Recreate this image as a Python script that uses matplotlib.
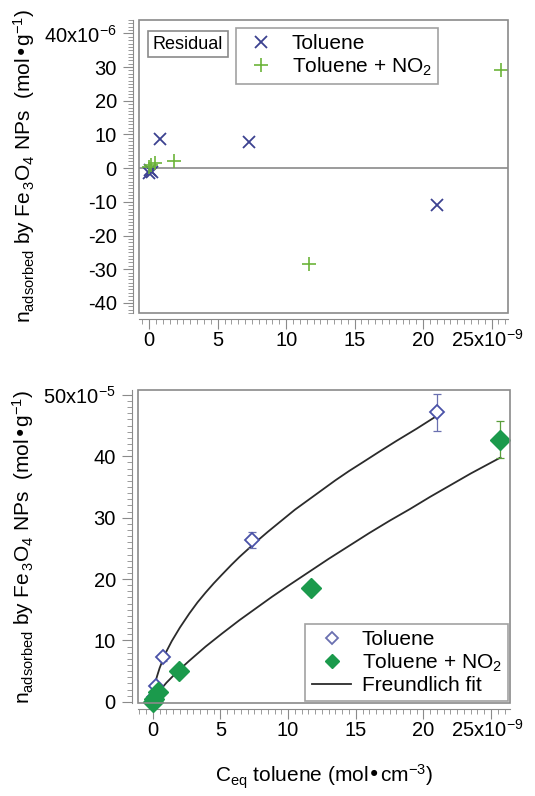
import numpy as np
import matplotlib
matplotlib.use("Agg")
import matplotlib.pyplot as plt
from matplotlib.ticker import FixedLocator, MultipleLocator, FixedFormatter
from matplotlib.patches import Rectangle
from matplotlib.lines import Line2D
from matplotlib.transforms import ScaledTranslation

plt.rcParams['font.family'] = ['Liberation Sans', 'DejaVu Sans']
plt.rcParams['mathtext.default'] = 'regular'

# Data (values as shown on the axes)
# top panel: residuals, x in 1e-9 mol/cm3, y in 1e-6 mol/g
res_tol_x = [0.0, 0.05, 0.2, 0.75, 7.3, 21.0]
res_tol_y = [-1.5, -0.5, -1.0, 8.6, 7.8, -10.8]
res_no2_x = [0.0, 0.1, 0.4, 1.8, 11.7, 25.7]
res_no2_y = [0.3, 0.8, 1.5, 2.0, -28.5, 29.0]

# bottom panel: isotherms, y in 1e-5 mol/g
tol_x = [0.0, 0.05, 0.25, 0.75, 7.3, 21.0]
tol_y = [0.0, 0.8, 2.6, 7.3, 26.3, 47.2]
tol_err = [0.3, 0.3, 0.4, 0.6, 1.3, 3.0]
no2_x = [0.0, 0.1, 0.4, 1.9, 11.7, 25.7]
no2_y = [0.0, 0.5, 1.6, 5.0, 18.5, 42.7]
no2_err = [0.2, 0.2, 0.3, 0.5, 1.0, 3.0]

# Freundlich fit curves
fit_tol_x = [0, 0.05, 0.15, 0.3, 0.5, 0.75, 1.0, 1.4, 2.0, 2.7, 3.3, 3.9, 4.5, 5.1, 5.8,
             6.4, 7.0, 7.6, 8.5, 9.5, 10.5, 11.5, 12.5, 13.5, 14.5, 15.5, 16.7, 18, 19.5, 21]
fit_tol_y = [0, 1.5, 2.8, 4.1, 5.5, 6.9, 8.2, 9.9, 12.1, 14.4, 16.2, 17.8, 19.3, 20.7, 22.3,
             23.6, 24.8, 26.0, 27.7, 29.5, 31.3, 32.9, 34.5, 36.1, 37.6, 39.0, 40.7, 42.5, 44.5, 46.6]
fit_no2_x = [0, 0.05, 0.15, 0.3, 0.5, 0.75, 1.0, 1.4, 1.9, 2.7, 3.9, 5.1, 6.4, 7.6, 8.8,
             10, 11.5, 13, 14.5, 16, 17.5, 19, 20.5, 22, 23.5, 25.7]
fit_no2_y = [0, 0.3, 0.7, 1.2, 1.8, 2.45, 3.1, 4.0, 5.1, 6.7, 9.0, 11.1, 13.3, 15.2, 17.1,
             18.9, 21.1, 23.3, 25.4, 27.5, 29.5, 31.4, 33.4, 35.3, 37.2, 39.8]

x_ticks = [0, 5, 10, 15, 20, 25]
x_labels = ['0', '5', '10', '15', '20', '25x10$^{-9}$']
top_y_ticks = [-40, -30, -20, -10, 0, 10, 20, 30, 40]
top_y_labels = ['-40', '-30', '-20', '-10', '0', '10', '20', '30', '40x10$^{-6}$']
bot_y_ticks = [0, 10, 20, 30, 40, 50]
bot_y_labels = ['0', '10', '20', '30', '40', '50x10$^{-5}$']

navy = '#3b4190'
light_green = '#6cb43a'
green = '#1b9a4c'
frame_col = '#8a8a8a'
ylabel = r'n$_{adsorbed}$ by Fe$_{\,3}$O$_4$ NPs  (mol•g$^{-1}$)'

fig = plt.figure(figsize=(5.35, 7.96), dpi=100)


def style_axes(ax, xt, xl, yt, yl, yminor):
	# Igor style: grey frame plus detached axes with many minor ticks
	for s in ['top', 'right']:
		ax.spines[s].set_visible(False)
	for s in ['left', 'bottom']:
		ax.spines[s].set_position(('outward', 4))
		ax.spines[s].set_color(frame_col)
		ax.spines[s].set_linewidth(0.8)
	ax.add_patch(Rectangle((0, 0), 1, 1, transform=ax.transAxes, fill=False,
	                       edgecolor=frame_col, linewidth=1.2, clip_on=False, zorder=5))
	ax.xaxis.set_major_locator(FixedLocator(xt))
	ax.xaxis.set_major_formatter(FixedFormatter(xl))
	ax.yaxis.set_major_locator(FixedLocator(yt))
	ax.yaxis.set_major_formatter(FixedFormatter(yl))
	ax.xaxis.set_minor_locator(MultipleLocator(0.5))
	ax.yaxis.set_minor_locator(MultipleLocator(yminor))
	ax.tick_params(which='major', length=7, width=0.8, color=frame_col, labelsize=14.5, pad=5)
	ax.tick_params(which='minor', length=3.5, width=0.6, color=frame_col)
	ax.tick_params(axis='x', pad=13)
	# keep the "x10^-9" label on the same baseline as the plain numbers
	labels = ax.get_xticklabels()
	for lbl in labels:
		lbl.set_verticalalignment('baseline')
	# Igor puts the exponent label a bit to the left of its tick
	labels[-1].set_transform(labels[-1].get_transform() +
	                         ScaledTranslation(-3 / 72, 0, fig.dpi_scale_trans))


# top: residuals
ax1 = fig.add_axes([0.2598, 0.6068, 0.6897, 0.3681])
ax1.axhline(0, color=frame_col, linewidth=1.2, zorder=1)
ax1.plot(res_tol_x, res_tol_y, linestyle='none', marker='x', markersize=9,
         markeredgewidth=1.3, color=navy, label='Toluene', clip_on=False, zorder=3)
ax1.plot(res_no2_x, res_no2_y, linestyle='none', marker='+', markersize=10,
         markeredgewidth=1.2, color=light_green, label='Toluene + NO$_2$', clip_on=False, zorder=3)
ax1.set_xlim(-0.75, 26.2)
ax1.set_ylim(-43, 44)
style_axes(ax1, x_ticks, x_labels, top_y_ticks, top_y_labels, 1)
ax1.set_ylabel(ylabel, fontsize=15, labelpad=5)
ax1.text(0.133, 0.918, 'Residual', transform=ax1.transAxes, fontsize=13,
         ha='center', va='center',
         bbox=dict(boxstyle='square,pad=0.25', facecolor='white', edgecolor=frame_col, linewidth=1.2))
leg1 = ax1.legend(loc='upper left', bbox_to_anchor=(0.262, 0.972), fontsize=15,
                  frameon=True, fancybox=False, edgecolor=frame_col, borderpad=0.3,
                  handletextpad=0.6, labelspacing=0.1, handlelength=1.8, borderaxespad=0)
leg1.get_frame().set_linewidth(1.2)

# bottom: isotherms
ax2 = fig.add_axes([0.2579, 0.1168, 0.6953, 0.3932])
ax2.plot(fit_tol_x, fit_tol_y, color='#2b2b2b', linewidth=1.3, zorder=2)
ax2.plot(fit_no2_x, fit_no2_y, color='#2b2b2b', linewidth=1.3, zorder=2)
ax2.errorbar(tol_x, tol_y, yerr=tol_err, fmt='none', ecolor='#6a70b0', elinewidth=0.9,
             capsize=3, capthick=0.9, zorder=3)
ax2.errorbar(no2_x, no2_y, yerr=no2_err, fmt='none', ecolor='#5a9e3a', elinewidth=0.9,
             capsize=3, capthick=0.9, zorder=3)
ax2.plot(tol_x, tol_y, linestyle='none', marker='D', markersize=7.5, markerfacecolor='white',
         markeredgecolor='#4a52a8', markeredgewidth=1.3, clip_on=False, zorder=4)
ax2.plot(no2_x, no2_y, linestyle='none', marker='D', markersize=10, color=green,
         clip_on=False, zorder=4)
ax2.set_xlim(-1.1, 26.4)
ax2.set_ylim(-0.2, 50.8)
style_axes(ax2, x_ticks, x_labels, bot_y_ticks, bot_y_labels, 1)
ax2.set_ylabel(ylabel, fontsize=15, labelpad=5)
ax2.set_xlabel('C$_{eq}$ toluene (mol•cm$^{-3}$)', fontsize=15, labelpad=16)

handles = [
	Line2D([], [], linestyle='none', marker='D', markersize=6.5, markerfacecolor='white',
	       markeredgecolor='#6a70b0', markeredgewidth=1.3),
	Line2D([], [], linestyle='none', marker='D', markersize=7.5, color=green),
	Line2D([], [], color='#2b2b2b', linewidth=1.3),
]
leg2 = ax2.legend(handles, ['Toluene', 'Toluene + NO$_2$', 'Freundlich fit'],
                  loc='lower right', bbox_to_anchor=(0.995, 0.006), fontsize=15,
                  frameon=True, fancybox=False, edgecolor=frame_col, borderpad=0.3,
                  handletextpad=0.5, labelspacing=0.1, handlelength=1.9, borderaxespad=0)
leg2.get_frame().set_linewidth(1.2)

fig.savefig('out.png', dpi=100)
